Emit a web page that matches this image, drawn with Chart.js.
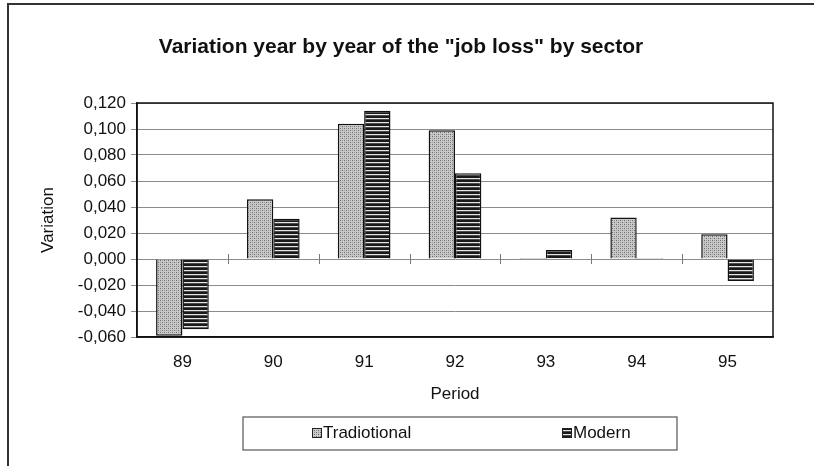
<!DOCTYPE html>
<html>
<head>
<meta charset="utf-8">
<script src="https://cdn.jsdelivr.net/npm/chart.js@4/dist/chart.umd.min.js"></script>
<style>
  html, body { margin: 0; padding: 0; background: #fff; }
  #wrap { width: 814px; height: 466px; }
</style>
</head>
<body>
<div id="wrap"><canvas id="job-loss-chart" width="814" height="466"></canvas></div>
<script>
// data
const periods = ["89", "90", "91", "92", "93", "94", "95"];
const traditional = [-0.059, 0.046, 0.104, 0.099, 0.0008, 0.032, 0.019];
const modern = [-0.054, 0.031, 0.114, 0.066, 0.007, 0.0008, -0.017];
const yTickLabels = ["-0,060", "-0,040", "-0,020", "0,000", "0,020", "0,040", "0,060", "0,080", "0,100", "0,120"];
const seriesNames = ["Tradiotional", "Modern"];
const chartTitle = 'Variation year by year of the "job loss" by sector';

const FONT = "Arial, 'Liberation Sans', sans-serif";

// dotted grey fill, like the old excel pattern
function dotPattern() {
  const c = document.createElement("canvas");
  c.width = 4;
  c.height = 4;
  const g = c.getContext("2d");
  g.fillStyle = "#c9c9c9";
  g.fillRect(0, 0, 4, 4);
  g.fillStyle = "#6a6a6a";
  g.fillRect(0, 0, 1, 1);
  g.fillRect(2, 2, 1, 1);
  g.fillStyle = "#9a9a9a";
  g.fillRect(2, 0, 1, 1);
  g.fillRect(0, 2, 1, 1);
  return g.createPattern(c, "repeat");
}

// horizontal stripes
function stripePattern() {
  const c = document.createElement("canvas");
  c.width = 4;
  c.height = 4;
  const g = c.getContext("2d");
  g.fillStyle = "#1a1a1a";
  g.fillRect(0, 0, 4, 4);
  g.fillStyle = "#e6e6e6";
  g.fillRect(0, 2, 4, 1);
  g.fillStyle = "#4a4a4a";
  g.fillRect(0, 3, 4, 1);
  return g.createPattern(c, "repeat");
}

const fills = [dotPattern(), stripePattern()];

const framePlugin = {
  id: "frame",
  beforeDraw(chart) {
    const ctx = chart.ctx;
    ctx.save();
    ctx.fillStyle = "#fff";
    ctx.fillRect(0, 0, chart.width, chart.height);
    ctx.strokeStyle = "#333";
    ctx.lineWidth = 2;
    ctx.beginPath();
    ctx.moveTo(8, 466);
    ctx.lineTo(8, 4);
    ctx.lineTo(814, 4);
    ctx.stroke();
    // title, centred on the whole frame
    ctx.font = "bold 21px " + FONT;
    ctx.fillStyle = "#111";
    ctx.textAlign = "center";
    ctx.textBaseline = "middle";
    ctx.fillText(chartTitle, 401, 47);
    ctx.restore();
  },
  afterDatasetsDraw(chart) {
    const ctx = chart.ctx;
    const a = chart.chartArea;
    const y0 = chart.scales.y.getPixelForValue(0);
    ctx.save();
    // small category ticks on the zero line
    ctx.strokeStyle = "#777";
    ctx.lineWidth = 1;
    const step = (a.right - a.left) / periods.length;
    for (let i = 1; i < periods.length; i++) {
      const px = Math.round(a.left + i * step) + 0.5;
      ctx.beginPath();
      ctx.moveTo(px, y0 - 5);
      ctx.lineTo(px, y0 + 5);
      ctx.stroke();
    }
    // plot area border
    ctx.strokeStyle = "#111";
    ctx.lineWidth = 1.5;
    ctx.strokeRect(a.left, a.top, a.right - a.left, a.bottom - a.top);

    // legend box
    ctx.strokeStyle = "#555";
    ctx.lineWidth = 1.2;
    ctx.strokeRect(243, 417, 434, 33);
    const items = [
      { x: 312, fill: fills[0] },
      { x: 562, fill: fills[1] },
    ];
    ctx.font = "17px " + FONT;
    ctx.textBaseline = "middle";
    items.forEach((it, i) => {
      ctx.fillStyle = it.fill;
      ctx.fillRect(it.x, 428, 9, 9);
      ctx.strokeStyle = "#222";
      ctx.lineWidth = 1;
      ctx.strokeRect(it.x + 0.5, 428.5, 9, 9);
      ctx.fillStyle = "#111";
      ctx.fillText(seriesNames[i], it.x + 11, 433);
    });
    ctx.restore();
  },
};

new Chart(document.getElementById("job-loss-chart"), {
  type: "bar",
  data: {
    labels: periods,
    datasets: [
      {
        label: seriesNames[0],
        data: traditional,
        backgroundColor: fills[0],
        borderColor: "#111",
        borderWidth: 1.5,
      },
      {
        label: seriesNames[1],
        data: modern,
        backgroundColor: fills[1],
        borderColor: "#111",
        borderWidth: 1.5,
      },
    ],
  },
  options: {
    responsive: false,
    animation: false,
    devicePixelRatio: 1,
    categoryPercentage: 0.58,
    barPercentage: 1.0,
    layout: { padding: { left: 0, right: 41, top: 103, bottom: 0 } },
    plugins: {
      legend: { display: false },
      tooltip: { enabled: false },
      title: { display: false },
    },
    scales: {
      x: {
        grid: { display: false, drawTicks: false },
        border: { display: true, color: "#111", width: 1.5 },
        ticks: { color: "#111", font: { family: FONT, size: 17 }, padding: 15 },
        title: {
          display: true,
          text: "Period",
          color: "#111",
          font: { family: FONT, size: 17, lineHeight: 1.2 },
          padding: { top: 0, bottom: 61 },
        },
        afterFit(scale) {
          scale.height = 129;
        },
      },
      y: {
        min: -0.06,
        max: 0.12,
        grid: { color: "#8c8c8c", lineWidth: 1, tickLength: 6 },
        border: { display: true, color: "#111", width: 1.5 },
        ticks: {
          stepSize: 0.02,
          padding: 5,
          color: "#111",
          font: { family: FONT, size: 17 },
          callback: (v, i) => yTickLabels[i],
        },
        title: {
          display: true,
          text: "Variation",
          color: "#111",
          font: { family: FONT, size: 17, lineHeight: 1.2 },
          padding: { top: 38, bottom: 0 },
        },
        afterFit(scale) {
          scale.width = 137;
        },
      },
    },
  },
  plugins: [framePlugin],
});
</script>
</body>
</html>
